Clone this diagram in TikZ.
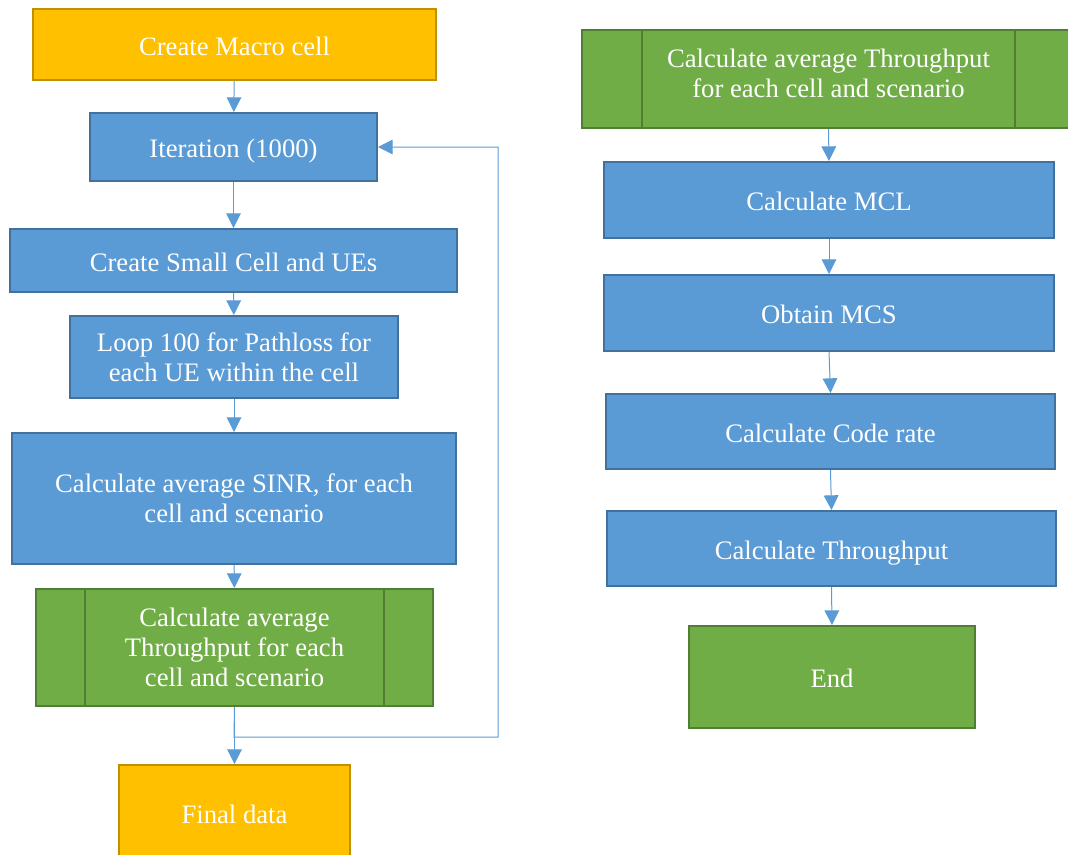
\documentclass[tikz,border=0pt]{standalone}
\usepackage{fontspec}
\setmainfont{Liberation Serif}
\usetikzlibrary{arrows.meta,positioning}

\definecolor{procblue}{HTML}{5B9BD5}
\definecolor{procblueline}{HTML}{41719C}
\definecolor{termorange}{HTML}{FFC000}
\definecolor{termorangeline}{HTML}{BF9000}
\definecolor{subgreen}{HTML}{70AD47}
\definecolor{subgreenline}{HTML}{507E32}

\begin{document}
\begin{tikzpicture}[
    x=0.75pt, y=-0.75pt,
    >={Triangle[length=11pt,width=11pt]},
    font=\fontsize{20}{22.5}\selectfont,
    every node/.style={inner sep=1pt, align=center, text=white},
    oneline/.style={text height=16pt, text depth=0pt},
    flow/.style={->, procblue, line width=0.75pt},
    proc/.style={draw=procblueline, fill=procblue, line width=1.5pt},
    term/.style={draw=termorangeline, fill=termorange, line width=1.5pt},
    subproc/.style={draw=subgreenline, fill=subgreen, line width=1.5pt}
]
\useasboundingbox (0,0) rectangle (1068,854);

% Left column: simulation loop
\node[term, oneline, minimum width=302.25pt, minimum height=53.25pt] (macro) at (234.5,44.5) {Create Macro cell};
\node[proc, oneline, minimum width=215.25pt, minimum height=51pt] (iter) at (233.5,147) {Iteration (1000)};
\node[proc, oneline, minimum width=335.25pt, minimum height=47.25pt] (small) at (233.5,260.5) {Create Small Cell and UEs};
\node[proc, minimum width=246pt, minimum height=61.5pt] (loop) at (234,357) {Loop 100 for Pathloss for\\each UE within the cell};
\node[proc, minimum width=333pt, minimum height=98.25pt] (sinr) at (234,498.5) {Calculate average SINR, for each\\cell and scenario};
\node[subproc, minimum width=297.75pt, minimum height=87.75pt] (avgL) at (234.5,647.5) {Calculate average\\Throughput for each\\cell and scenario};
\draw[subgreenline, line width=1.5pt] ([xshift=37.5pt]avgL.north west) -- ([xshift=37.5pt]avgL.south west);
\draw[subgreenline, line width=1.5pt] ([xshift=-37.5pt]avgL.north east) -- ([xshift=-37.5pt]avgL.south east);
\node[term, oneline, minimum width=173.25pt, minimum height=71.25pt] (final) at (234.5,812.5) {Final data};

% Right column: throughput chain
\node[subproc, text depth=9pt, minimum width=369.75pt, minimum height=73.5pt] (avgR) at (828.5,79) {Calculate average Throughput\\for each cell and scenario};
\draw[subgreenline, line width=1.5pt] ([xshift=45.75pt]avgR.north west) -- ([xshift=45.75pt]avgR.south west);
\draw[subgreenline, line width=1.5pt] ([xshift=-45.75pt]avgR.north east) -- ([xshift=-45.75pt]avgR.south east);
\node[proc, oneline, minimum width=337.5pt, minimum height=57pt] (mcl) at (829,200) {Calculate MCL};
\node[proc, oneline, minimum width=337.5pt, minimum height=57pt] (mcs) at (829,313) {Obtain MCS};
\node[proc, oneline, minimum width=336.75pt, minimum height=56.25pt] (rate) at (830.5,431.5) {Calculate Code rate};
\node[proc, oneline, minimum width=336.75pt, minimum height=56.25pt] (thr) at (831.5,548.5) {Calculate Throughput};
\node[subproc, oneline, minimum width=214.5pt, minimum height=76.5pt] (end) at (832,677) {End};

% Loop return
\coordinate (backA) at (234,737);
\coordinate (backB) at (498,737);
\coordinate (backC) at (498,147);

% Arrows
\draw[flow] (macro) -- (iter);
\draw[flow] (iter) -- (small);
\draw[flow] (small) -- (loop);
\draw[flow] (loop) -- (sinr);
\draw[flow] (sinr) -- (avgL);
\draw[flow] (avgL) -- (final);
\draw[flow] (avgL.south) -- (backA) -- (backB) -- (backC) -- (iter.east);

\draw[flow] (avgR.south) -- (mcl.north);
\draw[flow] (mcl.south) -- (mcs.north);
\draw[flow] (mcs.south) -- (rate.north);
\draw[flow] (rate.south) -- (thr.north);
\draw[flow] (thr.south) -- (end.north);

\end{tikzpicture}
\end{document}
